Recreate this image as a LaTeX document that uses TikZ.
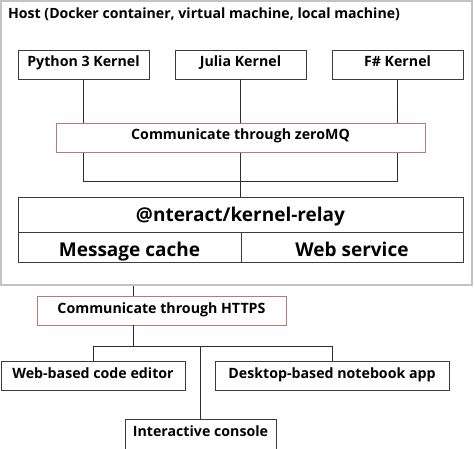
\documentclass[tikz,border=0pt]{standalone}
\usepackage{fontspec}
\setmainfont{Open Sans}
\begin{document}
\begin{tikzpicture}[x=1pt,y=-1pt,
  every node/.style={font=\bfseries},
  box/.style={draw=boxc, line width=0.9pt, fill=white, inner sep=0pt, anchor=center},
  redbox/.style={draw=redc, line width=0.9pt, fill=white, inner sep=0pt, anchor=center},
  conn/.style={draw=linec, line width=0.9pt},
  hostframe/.style={draw=hostc, line width=2pt},
  small/.style={font=\bfseries\fontsize{14.2}{16}\selectfont, text height=9pt, text depth=4pt},
  large/.style={font=\bfseries\fontsize{19}{22}\selectfont, text depth=0pt}]
\definecolor{boxc}{RGB}{60,60,60}
\definecolor{linec}{RGB}{45,45,45}
\definecolor{redc}{RGB}{190,120,120}
\definecolor{hostc}{RGB}{195,195,195}
\useasboundingbox (0,0) rectangle (474,449);
% host frame
\node[hostframe, minimum width=471pt, minimum height=284pt, inner sep=0pt] (host) at (236.5,143) {};
\node[anchor=base west, inner sep=0pt, font=\bfseries\fontsize{14.1}{16}\selectfont] (title) at (8,18.5) {Host (Docker container, virtual machine, local machine)};
% kernels
\node[box, small, minimum width=131pt, minimum height=29pt] (py) at (83.5,64.5) {Python 3 Kernel};
\node[box, small, minimum width=131pt, minimum height=29pt] (ju) at (240.5,64.5) {Julia Kernel};
\node[box, small, minimum width=131pt, minimum height=29pt] (fs) at (397.5,64.5) {F\# Kernel};
% relay
\node[box, large, text height=14.4pt, minimum width=445pt, minimum height=35pt] (relay) at (240.5,214.5) {@nteract/kernel-relay};
\node[box, large, text height=19pt, minimum width=223pt, minimum height=30pt] (cache) at (129.5,247) {Message cache};
\node[box, large, text height=19pt, minimum width=222pt, minimum height=30pt] (web) at (352,247) {Web service};
\coordinate (bus) at (240.5,181);
\draw[conn] (py.south) -- (py.south |- bus) -- (fs.south |- bus) -- (fs.south);
\draw[conn] (ju.south) -- (relay.north);
\node[redbox, small, minimum width=369pt, minimum height=29pt] (zmq) at (240.5,137.5) {Communicate through zeroMQ};
% https
\node[redbox, small, minimum width=249pt, minimum height=29pt] (https) at (161.5,310.5) {Communicate through HTTPS};
\coordinate (hx) at (133,296);
\draw[conn] (hx |- host.south) -- (hx);
% clients
\node[box, small, minimum width=184pt, minimum height=29pt] (editor) at (93,375.5) {Web-based code editor};
\node[box, small, minimum width=234pt, minimum height=29pt] (desk) at (332,375.5) {Desktop-based notebook app};
\node[box, small, minimum width=151pt, minimum height=30pt] (console) at (200.5,434) {Interactive console};
\coordinate (bus2) at (200.5,346);
\draw[conn] (hx |- https.south) -- (hx |- bus2);
\draw[conn] (editor.north) -- (editor.north |- bus2) -- (desk.north |- bus2) -- (desk.north);
\draw[conn] (bus2) -- (console.north);
\end{tikzpicture}
\end{document}
